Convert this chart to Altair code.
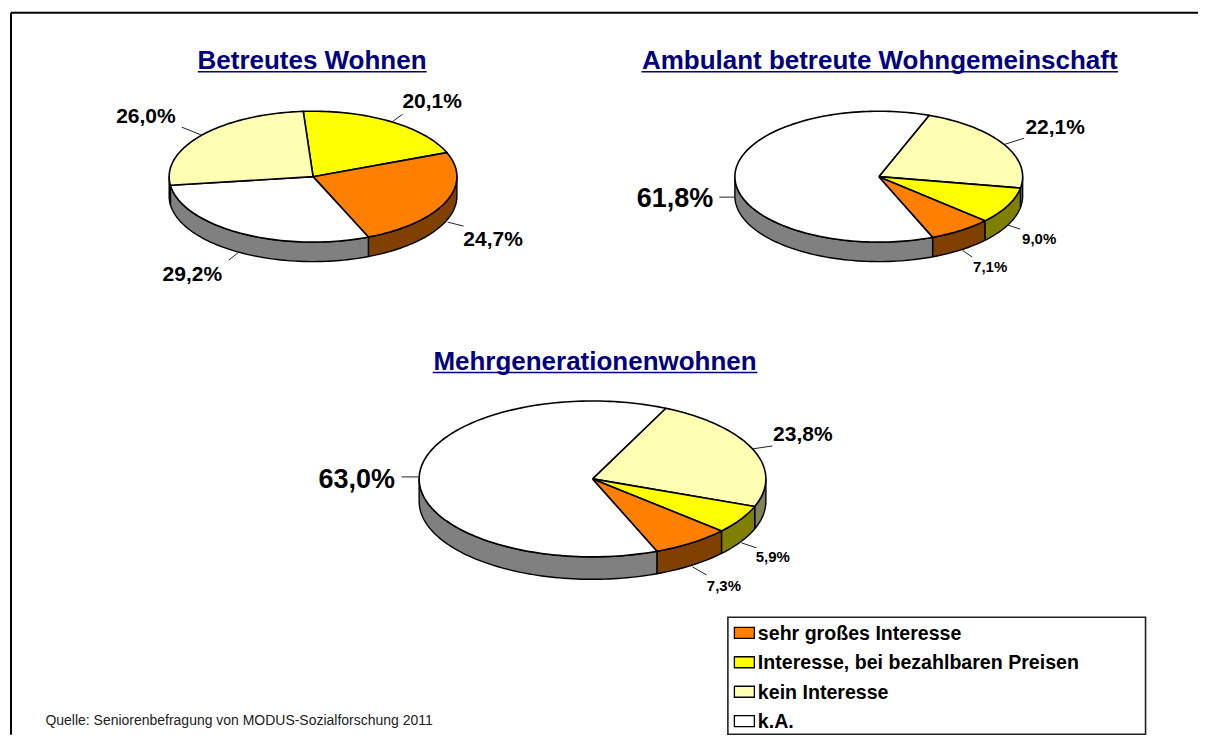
import math
import altair as alt
import pandas as pd

# --- chart values ---
categories = ["sehr großes Interesse", "Interesse, bei bezahlbaren Preisen", "kein Interesse", "k.A."]
pie_titles = ["Betreutes Wohnen", "Ambulant betreute Wohngemeinschaft", "Mehrgenerationenwohnen"]
values_betreut = [24.7, 20.1, 26.0, 29.2]
values_ambulant = [7.1, 9.0, 22.1, 61.8]
values_mehrgen = [7.3, 5.9, 23.8, 63.0]
source_text = "Quelle: Seniorenbefragung von MODUS-Sozialforschung 2011"

# --- styles and layout ---
top_colors = ["#FF8000", "#FFFF00", "#FFFFB3", "#FFFFFF"]
wall_colors = ["#804000", "#808000", "#80805A", "#808080"]
draw_order = [1, 0, 3, 2]  # clockwise from the first slice: yellow, orange, white, pale
draw_order_b = [2, 1, 0, 3]  # pale, yellow, orange, white

W, H = 1191, 727
X = alt.X("x:Q", axis=None, scale=alt.Scale(domain=[8, 8 + W], nice=False, zero=False))
Y = alt.Y("y:Q", axis=None, scale=alt.Scale(domain=[8 + H, 8], nice=False, zero=False))
X2 = alt.X2("x2:Q")
Y2 = alt.Y2("y2:Q")

pies = [
    dict(values=values_betreut, order=draw_order, cx=313.3, cy=176.5, rx=144, ry=65.5, depth=19.5, start=93.9,
         title_xy=(312.3, 61), rule=(198, 427, 71.5),
         labels=[(493.5, 240, 21), (432.5, 102, 21), (146, 117, 21), (192.5, 275, 21)],
         leaders=[(464, 226, 448, 222), (403, 114, 392, 122), (182, 127, 202, 135), (229, 260, 239, 252)]),
    dict(values=values_ambulant, order=draw_order_b, cx=879.5, cy=176.5, rx=144, ry=65.5, depth=19.5, start=69.5,
         title_xy=(880.5, 61), rule=(642, 1119, 71.5),
         labels=[(991, 267, 15), (1040, 239, 15), (1056, 128, 21), (675.5, 199, 27)],
         leaders=[(973, 257, 963, 250), (1021, 229, 1009, 225), (1025, 138, 1006, 144), (720, 197, 735, 197)]),
    dict(values=values_mehrgen, order=draw_order_b, cx=593, cy=479, rx=173.5, ry=78, depth=22.5, start=65,
         title_xy=(595.5, 362), rule=(433, 758, 372.5),
         labels=[(724.5, 586, 15), (773.5, 557, 15), (803.5, 435, 21), (357, 480, 27)],
         leaders=[(707, 575, 693, 567), (757, 548, 742, 543), (773, 446, 753, 449), (402, 477, 419, 477)]),
]


def arc_points(p, a0, a1, dy=0.0, step=1.5):
    n = max(2, int(abs(a1 - a0) / step) + 1)
    out = []
    for i in range(n + 1):
        a = math.radians(a0 + (a1 - a0) * i / n)
        out.append((p["cx"] + p["rx"] * math.cos(a), p["cy"] - p["ry"] * math.sin(a) + dy))
    return out


wall_rows, top_rows, text_rows, leader_rows, rule_rows = [], [], [], [], []
for pi, p in enumerate(pies):
    a = p["start"]
    for ci in p["order"]:
        sweep = p["values"][ci] * 3.6
        a_end = a - sweep
        # top face
        pts = [(p["cx"], p["cy"])] + arc_points(p, a, a_end) + [(p["cx"], p["cy"])]
        for k, (x, y) in enumerate(pts):
            top_rows.append(dict(id=f"t{pi}{ci}", k=k, x=x, y=y, fill=top_colors[ci]))
        # wall: the part of the slice on the front half of the ellipse
        for lo, hi in [(-180, 0), (-540, -360), (180, 360)]:
            s0, s1 = max(a_end, lo), min(a, hi)
            if s1 > s0:
                pts = arc_points(p, s1, s0) + arc_points(p, s0, s1, dy=p["depth"])
                pts.append(pts[0])
                for k, (x, y) in enumerate(pts):
                    wall_rows.append(dict(id=f"w{pi}{ci}{lo}", k=k, x=x, y=y, fill=wall_colors[ci]))
        a = a_end
    for ci, (lx, ly, fs) in enumerate(p["labels"]):
        text_rows.append(dict(x=lx, y=ly, size=fs, label=f"{p['values'][ci]:.1f}%".replace(".", ",")))
    for ld in p["leaders"]:
        leader_rows.append(dict(x=ld[0], y=ld[1], x2=ld[2], y2=ld[3]))
    rule_rows.append(dict(x=p["rule"][0], x2=p["rule"][1], y=p["rule"][2], y2=p["rule"][2]))

title_rows = [dict(x=p["title_xy"][0], y=p["title_xy"][1], label=t) for p, t in zip(pies, pie_titles)]

polygon_enc = dict(x=X, y=Y, detail="id:N", order="k:Q", fill=alt.Fill("fill:N", scale=None))
walls = alt.Chart(pd.DataFrame(wall_rows)).mark_line(
    stroke="black", strokeWidth=1.4, fill="#808080", strokeJoin="round").encode(**polygon_enc)
tops = alt.Chart(pd.DataFrame(top_rows)).mark_line(
    stroke="black", strokeWidth=1.6, fill="#ffffff", strokeJoin="round").encode(**polygon_enc)

leaders = alt.Chart(pd.DataFrame(leader_rows)).mark_rule(color="#222222", strokeWidth=1).encode(x=X, y=Y, x2=X2, y2=Y2)
labels = alt.Chart(pd.DataFrame(text_rows)).mark_text(
    font="Liberation Sans", fontWeight="bold", color="black", align="center", baseline="middle"
).encode(x=X, y=Y, text="label:N", size=alt.Size("size:Q", scale=None))
titles = alt.Chart(pd.DataFrame(title_rows)).mark_text(
    font="Liberation Sans", fontWeight="bold", color="#000080", fontSize=26, align="center", baseline="middle"
).encode(x=X, y=Y, text="label:N")
title_rules = alt.Chart(pd.DataFrame(rule_rows)).mark_rule(color="#000080", strokeWidth=1.5).encode(x=X, y=Y, x2=X2, y2=Y2)

# frame
frame = alt.Chart(pd.DataFrame([
    dict(x=11, x2=8 + W, y=12.5, y2=12.5),
    dict(x=11, x2=11, y=12.5, y2=8 + H),
])).mark_rule(color="black", strokeWidth=2).encode(x=X, y=Y, x2=X2, y2=Y2)

# legend
legend_box = alt.Chart(pd.DataFrame([dict(x=728.5, x2=1146.5, y=617.5, y2=734.5)])).mark_rect(
    fill="white", stroke="#222222", strokeWidth=1.6).encode(x=X, y=Y, x2=X2, y2=Y2)
legend_ys = [633, 662.5, 692, 721.5]
legend_swatches = alt.Chart(pd.DataFrame([
    dict(x=735, x2=755, y=yy - 5.5, y2=yy + 5.5, fill=c) for yy, c in zip(legend_ys, top_colors)
])).mark_rect(stroke="black", strokeWidth=1.3).encode(x=X, y=Y, x2=X2, y2=Y2, fill=alt.Fill("fill:N", scale=None))
legend_text = alt.Chart(pd.DataFrame([
    dict(x=758.5, y=yy + 1.2, label=c) for yy, c in zip(legend_ys, categories)
])).mark_text(font="Liberation Sans", fontWeight="bold", fontSize=19.6, color="black", align="left", baseline="middle"
              ).encode(x=X, y=Y, text="label:N")

source = alt.Chart(pd.DataFrame([dict(x=45.5, y=721, label=source_text)])).mark_text(
    font="Liberation Sans", fontSize=14, color="#222222", align="left", baseline="middle").encode(x=X, y=Y, text="label:N")

chart = alt.layer(frame, walls, tops, leaders, labels, title_rules, titles,
                  legend_box, legend_swatches, legend_text, source).properties(
    width=W, height=H, padding=0, background="white"
).configure_view(stroke=None)

chart.save("out.html", embed_options={"renderer": "svg", "actions": False})
